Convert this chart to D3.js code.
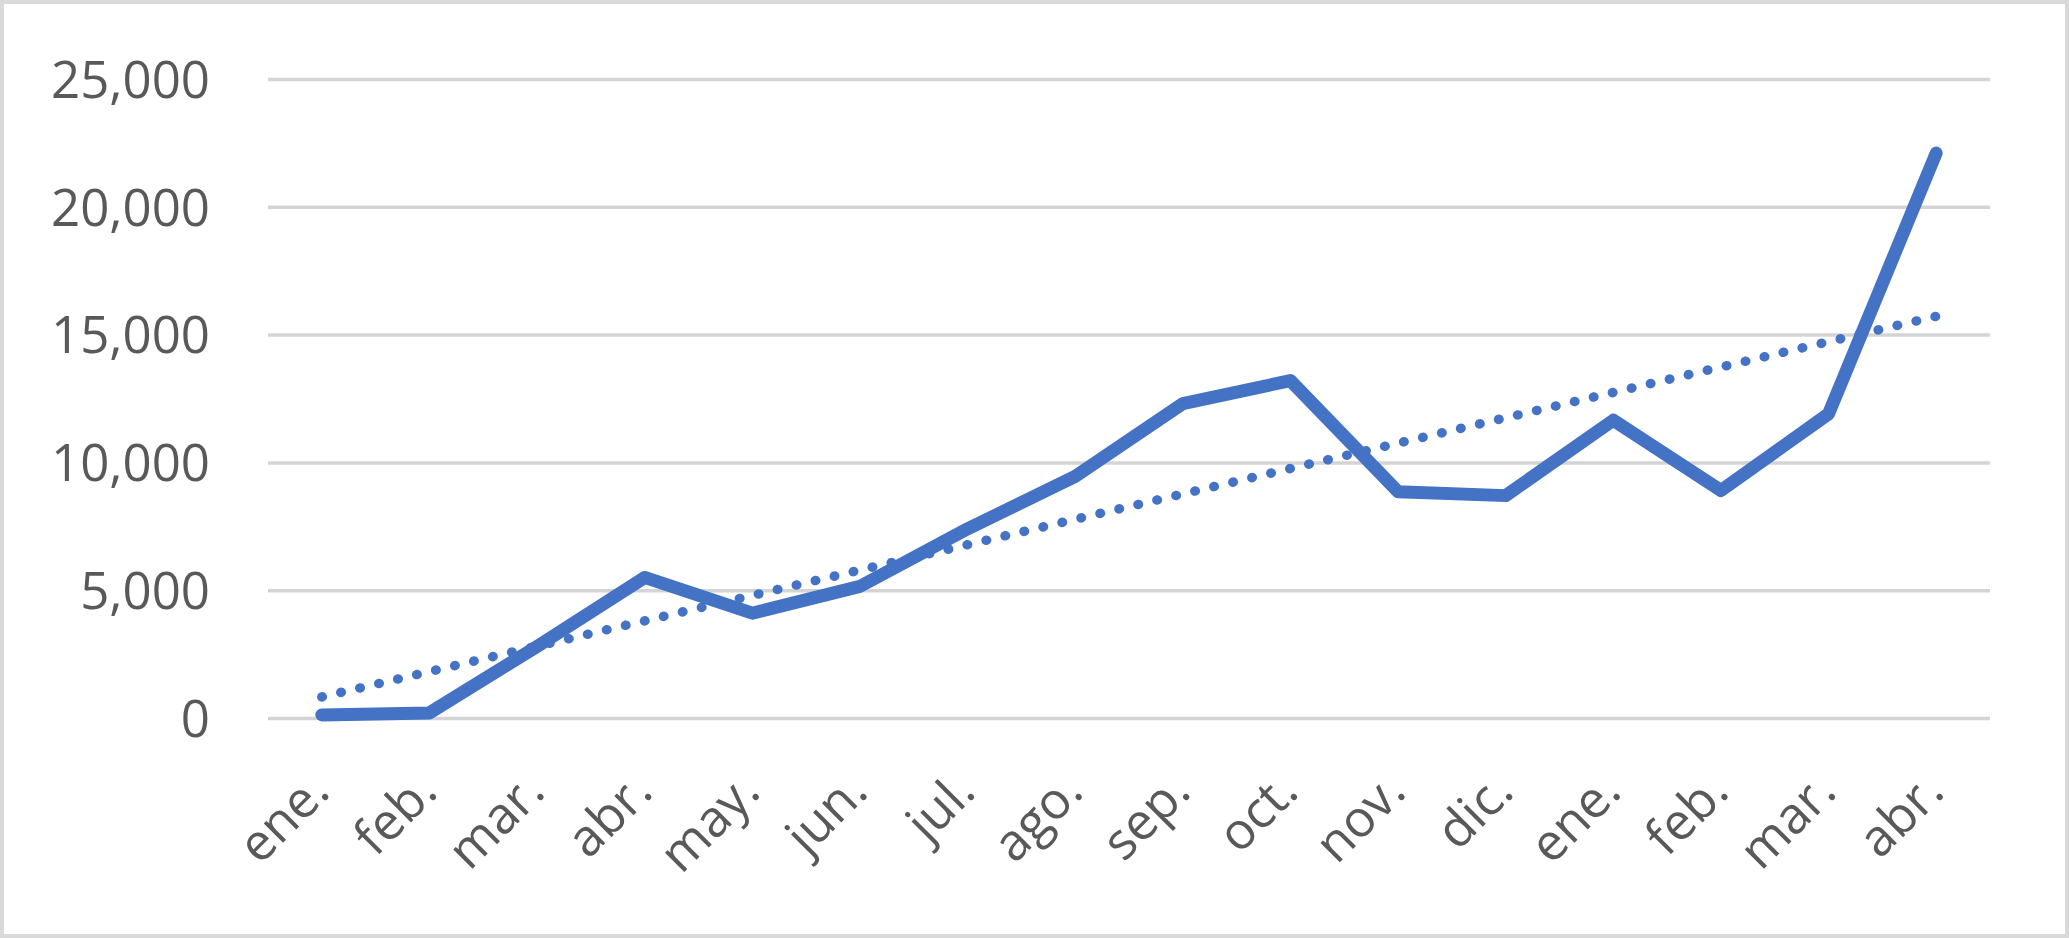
<!DOCTYPE html>
<html>
<head>
<meta charset="utf-8">
<script src="https://cdn.jsdelivr.net/npm/d3@7"></script>
<style>
  html, body { margin: 0; padding: 0; background: #fff; }
  svg { display: block; }
</style>
</head>
<body>
<svg id="chart" width="2069" height="938"></svg>
<script>
// ---- data ----
const categories = ["ene.", "feb.", "mar.", "abr.", "may.", "jun.", "jul.", "ago.", "sep.", "oct.", "nov.", "dic.", "ene.", "feb.", "mar.", "abr."];
const values = [120, 200, 2800, 5500, 4100, 5150, 7400, 9450, 12300, 13200, 8850, 8700, 11650, 8900, 11900, 22100];
const yTicks = [0, 5000, 10000, 15000, 20000, 25000];

// ---- layout ----
const W = 2069, H = 938;
const plot = { left: 268, right: 1990, top: 79, bottom: 718 };
const svg = d3.select("#chart");
const blue = "#4472C4";
const textColor = "#595959";
const fontFamily = "'Open Sans', 'Noto Sans', sans-serif";

// frame
svg.append("rect")
  .attr("x", 2).attr("y", 2)
  .attr("width", W - 4).attr("height", H - 4)
  .attr("fill", "#fff").attr("stroke", "#d9d9d9").attr("stroke-width", 4);

const idx = categories.map((_, i) => i);
const x = d3.scaleBand().domain(idx).range([plot.left, plot.right]).padding(0);
const xc = i => x(i) + x.bandwidth() / 2;
const y = d3.scaleLinear().domain([0, 25000]).range([plot.bottom, plot.top]);

// gridlines + y labels via axis
const yAxis = d3.axisLeft(y)
  .tickValues(yTicks)
  .tickSize(-(plot.right - plot.left))
  .tickPadding(58)
  .tickFormat(d3.format(",d"));

const gy = svg.append("g")
  .attr("transform", `translate(${plot.left},0)`)
  .call(yAxis);
gy.select(".domain").remove();
gy.selectAll(".tick line").attr("stroke", "#d4d4d4").attr("stroke-width", 3.5);
gy.selectAll(".tick text")
  .attr("fill", textColor)
  .attr("font-family", fontFamily)
  .attr("font-size", 51)
  .attr("dy", "0.36em");

// x labels via axis
const xAxis = d3.axisBottom(x)
  .tickSize(0)
  .tickFormat(i => categories[i]);
const gx = svg.append("g")
  .attr("transform", `translate(0,${plot.bottom})`)
  .call(xAxis);
gx.select(".domain").remove();
gx.selectAll(".tick text")
  .attr("fill", textColor)
  .attr("font-family", fontFamily)
  .attr("font-size", 51)
  .attr("text-anchor", "end")
  .attr("y", 0).attr("dy", 0)
  .attr("transform", "translate(10,76) rotate(-45)");

// linear trendline (least squares on the series)
const n = values.length;
const mx = d3.mean(idx), my = d3.mean(values);
const slope = d3.sum(idx, i => (i - mx) * (values[i] - my)) / d3.sum(idx, i => (i - mx) ** 2);
const intercept = my - slope * mx;
const trend = [0, n - 1].map(i => ({ i, v: intercept + slope * i }));

const line = d3.line().x(d => xc(d.i)).y(d => y(d.v));

svg.append("path")
  .datum(values.map((v, i) => ({ i, v })))
  .attr("d", line)
  .attr("fill", "none")
  .attr("stroke", blue)
  .attr("stroke-width", 13)
  .attr("stroke-linecap", "round")
  .attr("stroke-linejoin", "round");

svg.append("path")
  .datum(trend)
  .attr("d", line)
  .attr("fill", "none")
  .attr("stroke", blue)
  .attr("stroke-width", 9.5)
  .attr("stroke-linecap", "round")
  .attr("stroke-dasharray", "0.5 19");
</script>
</body>
</html>
